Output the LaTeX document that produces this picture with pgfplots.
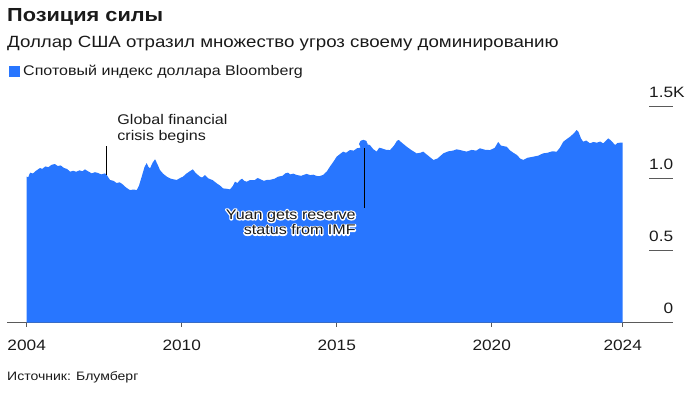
\documentclass[border=0pt]{standalone}
\usepackage{fontspec}
\setmainfont{Liberation Sans}[FakeStretch=1.15]
\usepackage{pgfplots}
\pgfplotsset{compat=1.18}
\definecolor{bbblue}{RGB}{40,118,255}
\definecolor{txt}{RGB}{26,26,26}
\definecolor{axgray}{RGB}{90,90,90}
\newcommand{\halo}[1]{\rlap{\special{pdf:literal direct 1 Tr 2.6 w 1 1 1 RG 1 j}#1\special{pdf:literal direct 0 Tr}}#1}
\begin{document}
\begin{tikzpicture}[x=1pt,y=1pt]
\path[use as bounding box] (0,0) rectangle (688,-393);
% titles
\node[anchor=west, inner sep=0, text=txt, font=\fontsize{18.9}{20}\selectfont\bfseries] at (7,-17) {Позиция силы};
\node[anchor=west, inner sep=0, text=txt, font=\fontsize{16.25}{18}\selectfont] at (7,-44) {Доллар США отразил множество угроз своему доминированию};
\fill[bbblue] (9,-66.5) rectangle (19.5,-77);
\node[anchor=west, inner sep=0, text=txt, font=\fontsize{13.95}{15}\selectfont] at (23,-72) {Спотовый индекс доллара Bloomberg};
\node[anchor=west, inner sep=0, text=txt, font=\fontsize{12.2}{14}\selectfont] at (7,-377) {Источник: Блумберг};
\begin{axis}[
  at={(7pt,-322.7pt)}, anchor=south west,
  scale only axis, width=665.7pt, height=230.4pt,
  xmin=2004.365, xmax=2025.839, ymin=0, ymax=1600,
  axis x line=bottom, axis y line=none,
  axis line style={-, draw=axgray, line width=0.9pt},
  xtick={2005.0,2010,2015,2020,2024.226},
  xticklabels={2004,2010,2015,2020,2024},
  tick align=outside, major tick length=4pt,
  xtick style={draw=axgray, line width=0.9pt},
  xticklabel style={font=\fontsize{15}{16}\selectfont, text=txt, anchor=base, yshift=-24pt},
  ytick=\empty,
  clip=false,
]
\addplot[fill=bbblue, draw=none] coordinates {
(2005.00,1014) (2005.05,1010) (2005.11,1042) (2005.20,1036) (2005.30,1055)
(2005.43,1074) (2005.50,1068) (2005.60,1085) (2005.70,1080) (2005.80,1096)
(2005.91,1102) (2006.00,1088) (2006.10,1092) (2006.20,1075) (2006.30,1068)
(2006.40,1049) (2006.50,1055) (2006.60,1048) (2006.70,1058) (2006.80,1052)
(2006.88,1065) (2006.95,1055) (2007.10,1037) (2007.20,1045) (2007.30,1040)
(2007.40,1030) (2007.53,1037) (2007.60,1020) (2007.69,991) (2007.80,985)
(2007.90,970) (2008.00,975) (2008.10,960) (2008.20,940) (2008.33,921)
(2008.45,925) (2008.55,921) (2008.62,950) (2008.71,1014) (2008.80,1080)
(2008.87,1109) (2008.92,1085) (2008.98,1072) (2009.06,1110) (2009.14,1135)
(2009.22,1100) (2009.30,1060) (2009.40,1035) (2009.52,1014) (2009.65,1000)
(2009.75,995) (2009.84,991) (2009.95,1005) (2010.04,1014) (2010.15,1035)
(2010.25,1050) (2010.36,1065) (2010.45,1040) (2010.59,1014) (2010.66,1008)
(2010.75,1025) (2010.85,1003) (2011.00,990) (2011.13,968) (2011.25,950)
(2011.33,933) (2011.45,930) (2011.56,926) (2011.65,950) (2011.72,979)
(2011.80,970) (2011.88,991) (2011.95,1000) (2012.02,985) (2012.10,979)
(2012.20,990) (2012.36,991) (2012.45,1005) (2012.55,995) (2012.65,985)
(2012.74,991) (2012.85,992) (2013.00,1000) (2013.11,1014) (2013.25,1020)
(2013.35,1038) (2013.43,1042) (2013.50,1030) (2013.60,1035) (2013.71,1026)
(2013.85,1020) (2014.03,1033) (2014.15,1025) (2014.25,1028) (2014.35,1019)
(2014.45,1018) (2014.56,1026) (2014.68,1050) (2014.78,1083) (2014.90,1120)
(2015.00,1153) (2015.10,1170) (2015.21,1188) (2015.30,1180) (2015.43,1199)
(2015.55,1195) (2015.65,1211) (2015.75,1215) (2015.86,1235) (2015.95,1240)
(2016.07,1234) (2016.18,1205) (2016.29,1188) (2016.37,1215) (2016.45,1211)
(2016.60,1200) (2016.72,1199) (2016.85,1230) (2016.94,1262) (2017.00,1269)
(2017.10,1250) (2017.26,1222) (2017.40,1200) (2017.58,1176) (2017.70,1180)
(2017.79,1188) (2017.95,1160) (2018.12,1130) (2018.25,1140) (2018.44,1176)
(2018.60,1190) (2018.75,1195) (2018.87,1204) (2019.00,1198) (2019.19,1188)
(2019.35,1200) (2019.50,1195) (2019.62,1211) (2019.80,1200) (2019.95,1199)
(2020.10,1215) (2020.21,1255) (2020.30,1230) (2020.48,1222) (2020.60,1195)
(2020.70,1180) (2020.81,1165) (2020.92,1140) (2021.02,1130) (2021.15,1145)
(2021.34,1153) (2021.50,1160) (2021.66,1176) (2021.80,1180) (2021.95,1190)
(2022.10,1188) (2022.20,1215) (2022.31,1257) (2022.42,1275) (2022.53,1292)
(2022.65,1315) (2022.74,1338) (2022.80,1325) (2022.88,1280) (2022.95,1257)
(2023.05,1265) (2023.17,1246) (2023.28,1255) (2023.39,1250) (2023.50,1258)
(2023.60,1245) (2023.76,1280) (2023.85,1265) (2023.98,1234) (2024.06,1248)
(2024.14,1250) (2024.226,1250)
} \closedcycle;
\addplot[only marks, mark=*, mark size=4pt, color=bbblue] coordinates {(2015.86,1241)};
% y labels with short lines
\draw[axgray, line width=1.2pt] (axis cs:2025.08,500) -- (axis cs:2025.86,500);
\draw[axgray, line width=1.2pt] (axis cs:2025.08,1000) -- (axis cs:2025.86,1000);
\draw[axgray, line width=1.2pt] (axis cs:2025.08,1500) -- (axis cs:2025.86,1500);
\node[anchor=base east, inner sep=0, text=txt, font=\fontsize{15}{16}\selectfont, yshift=9pt] at (axis cs:2025.86,1500) {1.5\rlap{K}};
\node[anchor=base east, inner sep=0, text=txt, font=\fontsize{15}{16}\selectfont, yshift=9pt] at (axis cs:2025.86,1000) {1.0};
\node[anchor=base east, inner sep=0, text=txt, font=\fontsize{15}{16}\selectfont, yshift=9pt] at (axis cs:2025.86,500) {0.5};
\node[anchor=base east, inner sep=0, text=txt, font=\fontsize{15}{16}\selectfont, yshift=9pt] at (axis cs:2025.86,0) {0};
% annotations
\draw[black, line width=0.8pt] (axis cs:2007.56,1227) -- (axis cs:2007.56,1026);
\node[anchor=north west, align=left, inner sep=0, text=txt, font=\fontsize{14}{16}\selectfont] at (axis cs:2007.92,1450) {Global financial\\crisis begins};
\draw[black, line width=0.8pt] (axis cs:2015.89,1213) -- (axis cs:2015.89,795);
\node[anchor=north east, align=right, inner sep=0, text=txt, font=\fontsize{14}{15.5}\selectfont] at (axis cs:2015.62,787) {\halo{Yuan gets reserve}\\\halo{status from IMF}};
\end{axis}
\end{tikzpicture}
\end{document}
